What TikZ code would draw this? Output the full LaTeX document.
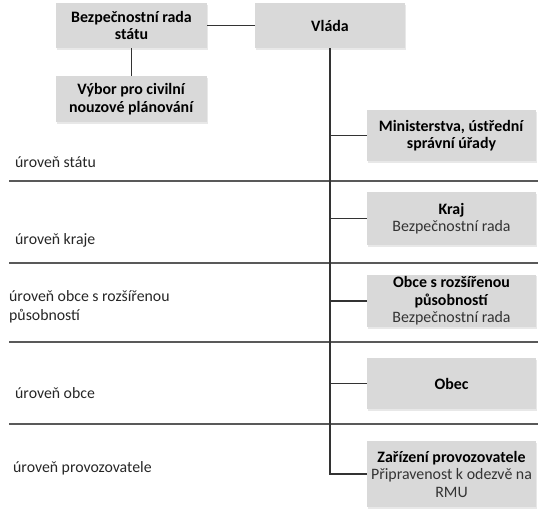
\documentclass[tikz,border=0pt]{standalone}
\usepackage{fontspec}
\setmainfont{Carlito}
\usepackage{tikz}
\usetikzlibrary{shadows}

\definecolor{boxgray}{HTML}{D9D9D9}
\definecolor{linegray}{HTML}{595959}
\definecolor{textgray}{HTML}{333333}

\tikzset{
  orgbox/.style={fill=boxgray, inner sep=2pt, align=center, font=\fontsize{15.9}{17.5}\selectfont,
    drop shadow={opacity=0.18, shadow xshift=1.2pt, shadow yshift=-1.5pt}},
  conn/.style={draw=black!80, line width=1.2pt},
  level/.style={draw=linegray, line width=1.3pt},
  levellabel/.style={anchor=west, inner sep=0pt, align=left, text=black!85, font=\fontsize{15.8}{19.5}\selectfont},
}
\newcommand{\sub}[1]{\textcolor{textgray}{#1}}

\begin{document}
\begin{tikzpicture}[x=1pt, y=-1pt]
    \useasboundingbox (0,0) rectangle (542,515);

    % level separators
    \draw[level] (9,181) -- (538,181);
    \draw[level] (9,263) -- (538,263);
    \draw[level] (9,342) -- (538,342);
    \draw[level] (9,424) -- (538,424);

    % level names
    \node[levellabel] (lstat) at (15,162) {úroveň státu};
    \node[levellabel] (lkraj) at (15,240) {úroveň kraje};
    \node[levellabel] (lorp)  at (9,307)  {úroveň obce s rozšířenou\\působností};
    \node[levellabel] (lobec) at (15,393) {úroveň obce};
    \node[levellabel] (lprov) at (13,468) {úroveň provozovatele};

    % top
    \node[orgbox, minimum width=151pt, minimum height=45pt] (brs) at (131.5,25.5) {\textbf{Bezpečnostní rada}\\\textbf{státu}};
    \node[orgbox, minimum width=150pt, minimum height=45pt] (vlada) at (330,25.5) {\textbf{Vláda}};
    \node[orgbox, minimum width=151pt, minimum height=46pt] (vybor) at (131.5,99) {\textbf{Výbor pro civilní}\\\textbf{nouzové plánování}};

    % levels
    \node[orgbox, minimum width=169pt, minimum height=51pt] (mini) at (451.5,135.5) {\textbf{Ministerstva, ústřední}\\\textbf{správní úřady}};
    \node[orgbox, minimum width=169pt, minimum height=53pt] (kraj) at (451.5,218.5) {\textbf{Kraj}\\\sub{Bezpečnostní rada}};
    \node[orgbox, minimum width=169pt, minimum height=52pt] (orp) at (451.5,301) {\textbf{Obce s rozšířenou}\\\textbf{působností}\\\sub{Bezpečnostní rada}};
    \node[orgbox, minimum width=169pt, minimum height=51pt] (obec) at (451.5,383.5) {\textbf{Obec}};
    \node[orgbox, minimum width=169pt, minimum height=66pt] (zar) at (451.5,474) {\textbf{Zařízení provozovatele}\\\sub{Připravenost k odezvě na}\\\sub{RMU}};

    % connectors
    \draw[conn] (brs) -- (vlada);
    \draw[conn] (brs) -- (vybor);
    \draw[conn] (vlada.south) |- (zar.west);
    \draw[conn] (vlada.south |- mini.west) -- (mini.west);
    \draw[conn] (vlada.south |- kraj.west) -- (kraj.west);
    \draw[conn] (vlada.south |- orp.west) -- (orp.west);
    \draw[conn] (vlada.south |- obec.west) -- (obec.west);
\end{tikzpicture}
\end{document}
